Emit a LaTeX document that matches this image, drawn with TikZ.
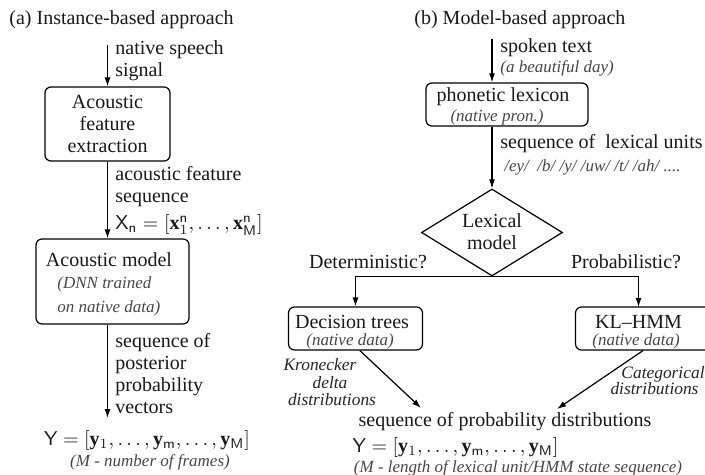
\documentclass[tikz,border=0pt]{standalone}
\usepackage{fontspec}
\setmainfont{Liberation Serif}
\usetikzlibrary{arrows.meta,shapes.geometric,calc}
\begin{document}
\begin{tikzpicture}[x=0.5pt,y=-0.5pt,
  every node/.style={inner sep=0pt, font=\fontsize{10}{11}\selectfont, text=black!90},
  boxnode/.style={draw, rounded corners=3pt, line width=0.6pt},
  lbl/.style={anchor=west, align=left},
  itl/.style={font=\fontsize{8.5}{12}\selectfont\itshape, text=black!72},
  itb/.style={font=\fontsize{8.7}{8.8}\selectfont\itshape, text=black!85},
  arr/.style={-{Latex[length=4.5pt,width=3pt]}, line width=0.6pt},
]
\useasboundingbox (0,0) rectangle (705,475);

% ---------- (a) ----------
\node[anchor=west] (ta) at (9,20) {(a) Instance-based approach};
\coordinate (ain) at (107.5,45);
\node[boxnode, minimum width=62.5pt, minimum height=37pt, align=center] (b1) at (107.5,124)
  {Acoustic\\feature\\extraction};
\draw[arr] (ain) -- (b1.north);
\node[lbl] (l1) at (115,61) {native speech\\signal};

\node[boxnode, minimum width=76.5pt, minimum height=42.5pt] (b2) at (112.5,281.5) {};
\draw[arr] (b1.south) -- (b1.south |- b2.north);
\node[lbl] (l2) at (115,187) {acoustic feature\\sequence};
\node[anchor=west] (xn) at (115,225) {$\mathsf{X}_{\mathsf{n}}=[\mathbf{x}_1^{\mathsf{n}},\dots,\mathbf{x}_{\mathsf{M}}^{\mathsf{n}}]$};
\node (b2t) at (109,260) {Acoustic model};
\node[itl, anchor=west, align=left] (b2i) at (57,296) {(DNN trained\\on native data)};

\coordinate (yl) at (107.5,418);
\draw[arr] (yl |- b2.south) -- (yl);
\node[lbl, font=\fontsize{10}{10.9}\selectfont] (l3) at (115,373.5) {sequence of\\posterior\\probability\\vectors};
\node (ya) at (147,440) {$\mathsf{Y}=[\mathbf{y}_1,\dots,\mathbf{y}_{\mathsf{m}},\dots,\mathbf{y}_{\mathsf{M}}]$};
\node[itl] (ma) at (150,462) {(M - number of frames)};

% ---------- (b) ----------
\node[anchor=west] (tb) at (414,20) {(b) Model-based approach};
\coordinate (bin) at (492,39);
\node[boxnode, minimum width=81pt, minimum height=21.5pt] (pl) at (507,104.5) {};
\node (plt) at (503,97) {phonetic lexicon};
\node[itl] (pli) at (497,117) {(native pron.)};
\draw[arr] (bin) -- (bin |- pl.north);
\node[anchor=west] (st) at (500,48) {spoken text};
\node[itl, anchor=west] (sti) at (500,68) {(a beautiful day)};

\node[draw, diamond, line width=0.6pt, minimum width=70.5pt, minimum height=43.5pt] (lex) at (492,232.5) {};
\node[align=center] (lext) at (492,232) {Lexical\\model};
\draw[arr] (bin |- pl.south) -- (lex.north);
\node[anchor=west] (slu) at (500,144) {sequence of \ lexical units};
\node[itl, anchor=west] (lu) at (504,167) {/ey/ \ /b/ /y/ /uw/ /t/ /ah/ ....};

\node[boxnode, minimum width=67pt, minimum height=21.5pt] (dt) at (355.5,328.5) {};
\node (dtt) at (352,322) {Decision trees};
\node[itl] (dti) at (350,341) {(native data)};
\node[boxnode, minimum width=72pt, minimum height=21.5pt] (kl) at (647.5,328.5) {};
\node (klt) at (638.5,322) {KL--HMM};
\node[itl] (kli) at (636,341) {(native data)};
\coordinate (klin) at (638.5,307);
\draw[arr] (lex.south) -| (dt.north);
\draw[arr] (lex.south) -| (klin);
\node (det) at (368,262) {Deterministic?};
\node (prob) at (626,262) {Probabilistic?};

\coordinate (tl) at (421,408);
\coordinate (tr) at (557,409);
\draw[arr] ([xshift=2.2pt]dt.south) -- (tl);
\draw[arr] ([xshift=-2.25pt]kl.south) -- (tr);
\node[itb] (kd1) at (320,365) {Kronecker};
\node[itb] (kd2) at (330,383) {delta};
\node[itb] (kd3) at (332,400) {distributions};
\node[itb] (cd1) at (663,374) {Categorical};
\node[itb] (cd2) at (654.5,389) {distributions};

\node (spd) at (505,422) {sequence of probability distributions};
\node (yb) at (455.5,447) {$\mathsf{Y}=[\mathbf{y}_1,\dots,\mathbf{y}_{\mathsf{m}},\dots,\mathbf{y}_{\mathsf{M}}]$};
\node[itl] (mb) at (518,468) {(M - length of lexical unit/HMM state sequence)};
\end{tikzpicture}
\end{document}
